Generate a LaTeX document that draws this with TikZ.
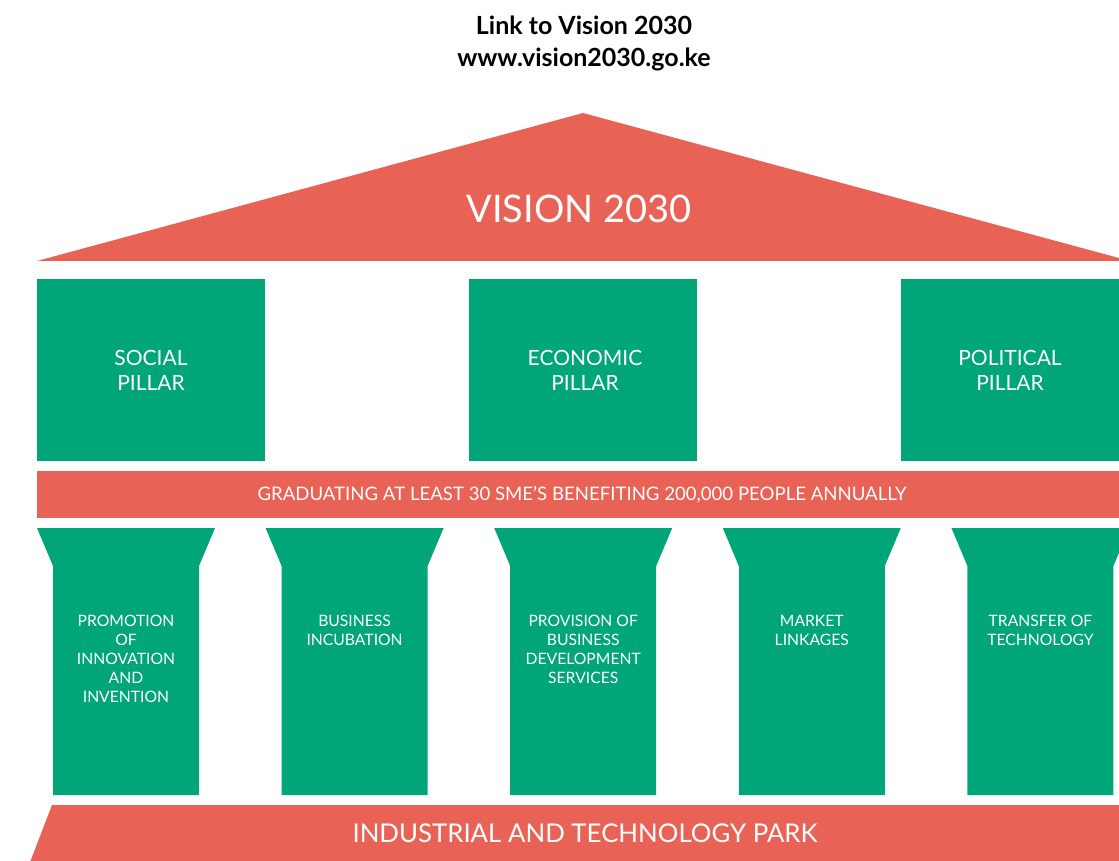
\documentclass[tikz,border=0pt]{standalone}
\usepackage{fontspec}
\setmainfont{Lato}
\usepackage{tikz}
\usetikzlibrary{positioning, calc}
\definecolor{roofred}{RGB}{233, 98, 86}
\definecolor{pillargreen}{RGB}{0, 165, 120}

\begin{document}
\begin{tikzpicture}[
    % Global styles
    x=0.5pt, y=-0.5pt,
    % Shape styles
    redpart/.style={fill=roofred, draw=none},
    greenpart/.style={fill=pillargreen, draw=none},
    % Text styles
    heading/.style={
        font=\fontsize{12.5}{16}\selectfont\bfseries,
        text=black,
        align=center
    },
    whitetext/.style={
        text=white,
        align=center,
        inner sep=0pt
    }
]

% --- Frame ---
\useasboundingbox (0,0) rectangle (1119,861);
\clip (0,0) rectangle (1119,861);

% --- Heading ---
\node (link) [heading] at (584,43) {Link to Vision 2030\\www.vision2030.go.ke};

% --- Roof ---
\path [redpart] (37,261) -- (583,113) -- (1130,261) -- cycle;
\node (vision) [whitetext, font=\fontsize{19}{24}\selectfont] at (579,209) {VISION 2030};

% --- Upper pillars ---
\path [greenpart] (37,279) rectangle (265,461);
\path [greenpart] (469,279) rectangle (697,461);
\path [greenpart] (901,279) rectangle (1129,461);
\node (social) [whitetext, font=\fontsize{10.5}{12.5}\selectfont] at (151,370) {SOCIAL\\PILLAR};
\node (economic) [whitetext, font=\fontsize{10.5}{12.5}\selectfont] at (585,370) {ECONOMIC\\PILLAR};
\node (political) [whitetext, font=\fontsize{10.5}{12.5}\selectfont] at (1010,370) {POLITICAL\\PILLAR};

% --- Beam ---
\path [redpart] (37,471) rectangle (1130,518);
\node (goal) [whitetext, font=\fontsize{9.3}{10}\selectfont] at (582,495)
    {GRADUATING AT LEAST 30 SME'S BENEFITING 200,000 PEOPLE ANNUALLY};

% --- Lower pillars ---
\foreach \i in {0,...,4} {
    \pgfmathsetmacro{\xl}{37+228.6*\i}
    \path [greenpart] (\xl,528) -- ++(178,0) -- ++(-16,38) -- ++(0,229)
        -- ++(-146,0) -- ++(0,-229) -- cycle;
}
\foreach \txt [count=\n from 0] in {
    {PROMOTION\\OF\\INNOVATION\\AND\\INVENTION},
    {BUSINESS\\INCUBATION},
    {PROVISION OF\\BUSINESS\\DEVELOPMENT\\SERVICES},
    {MARKET\\LINKAGES},
    {TRANSFER OF\\TECHNOLOGY}} {
    \pgfmathsetmacro{\xc}{126+228.6*\n}
    \node (service\n) [whitetext, anchor=north, font=\fontsize{7.85}{9.5}\selectfont]
        at (\xc,615) {\txt};
}

% --- Base ---
\path [redpart] (52,805) -- (1130,805) -- (1130,870) -- (27,870) -- cycle;
\node (park) [whitetext, font=\fontsize{12.9}{14}\selectfont] at (585,833)
    {INDUSTRIAL AND TECHNOLOGY PARK};

\end{tikzpicture}
\end{document}
